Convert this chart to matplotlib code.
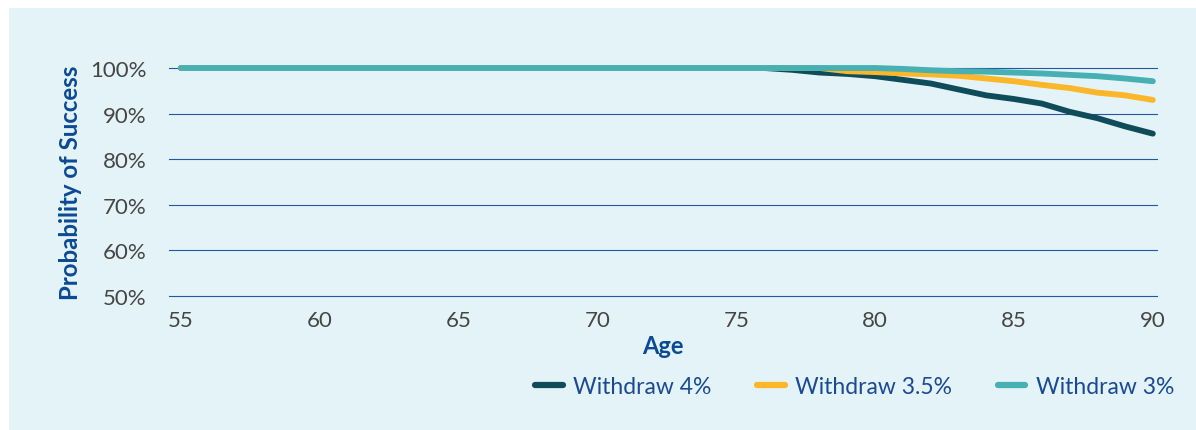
import matplotlib
matplotlib.use("Agg")
import matplotlib.pyplot as plt
from matplotlib.patches import Rectangle

ages = list(range(55, 91))
w4 = [100]*22 + [99.6, 99.0, 98.7, 98.2, 97.4, 96.6, 95.3, 94.0, 93.2, 92.2, 90.4, 89.0, 87.2, 85.6]
w35 = [100]*24 + [99.3, 99.1, 98.8, 98.6, 98.3, 97.7, 97.1, 96.3, 95.6, 94.6, 94.0, 93.0]
w3 = [100]*26 + [99.8, 99.5, 99.3, 99.2, 99.0, 98.8, 98.5, 98.2, 97.7, 97.1]
series_labels = ["Withdraw 4%", "Withdraw 3.5%", "Withdraw 3%"]
yticks = [50, 60, 70, 80, 90, 100]
xticks = [55, 60, 65, 70, 75, 80, 85, 90]

plt.rcParams['font.family'] = ['Lato', 'DejaVu Sans']

W, H = 1196, 431
fig = plt.figure(figsize=(W/100, H/100), dpi=100)
fig.patch.set_facecolor('white')
bg = '#e4f3f7'
fig.patches.append(Rectangle((9/W, 0), 1 - 9/W, 1 - 9/H, transform=fig.transFigure,
                             facecolor=bg, edgecolor='none', zorder=-10))

ax = fig.add_axes([169/W, 1 - 297/H, (1157-169)/W, (297-69)/H], zorder=1)
ax.set_facecolor('none')
for s in ax.spines.values():
    s.set_visible(False)

ax.set_xlim(54.57, 90.15)
ax.set_ylim(50, 100)
for y in yticks:
    ax.axhline(y, color='#22589f', lw=0.8, zorder=1, clip_on=False)

colors = ['#0f4c5a', '#fbb62a', '#46b0b2']
for vals, c, lab in zip([w4, w35, w3], colors, series_labels):
    ax.plot(ages, vals, color=c, lw=4.2, solid_capstyle='round', label=lab,
            clip_on=False, zorder=3)
ax.set_yticks(yticks)
ax.set_yticklabels([f"{v}%" for v in yticks])
ax.set_xticks(xticks)
ax.tick_params(axis='both', length=0, labelsize=16, colors='#454545')
ax.tick_params(axis='y', pad=16)
ax.tick_params(axis='x', pad=10)

ax.set_xlabel("Age", fontsize=17, fontweight='bold', color='#0b4a94', labelpad=3)
ax.set_ylabel("Probability of Success", fontsize=17.3, fontweight='bold', color='#0b4a94', labelpad=6)

handles, labels = ax.get_legend_handles_labels()
leg = fig.legend(handles, labels, ncol=3, loc='center right',
                 bbox_to_anchor=(1174/W, 1 - 388/H), frameon=False,
                 fontsize=16.5, handlelength=1.2, handletextpad=0.45,
                 columnspacing=2.0, borderpad=0, borderaxespad=0)
for t in leg.get_texts():
    t.set_color('#1a4a94')
for l in leg.get_lines():
    l.set_linewidth(4.5)
    l.set_solid_capstyle('round')

fig.savefig("out.png", dpi=100, facecolor=fig.get_facecolor())
